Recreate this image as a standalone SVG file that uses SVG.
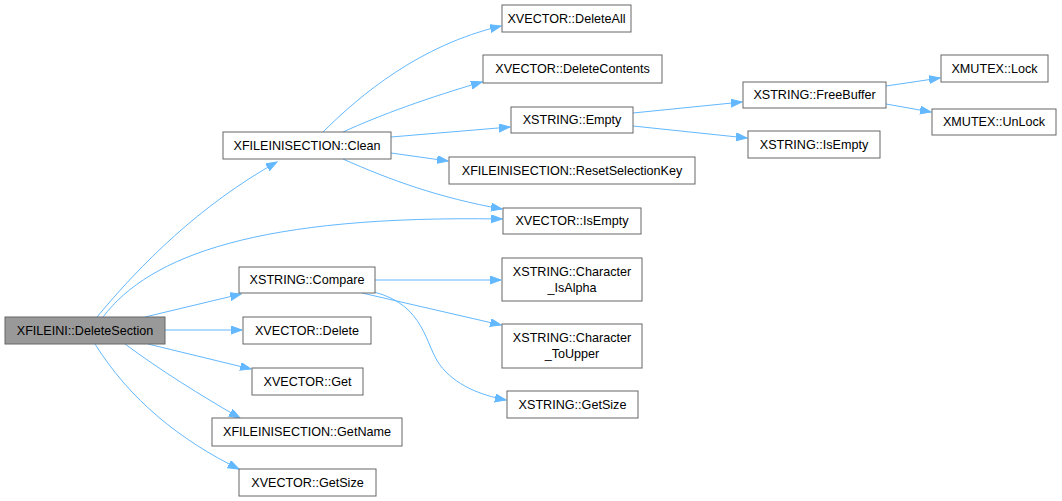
<svg xmlns="http://www.w3.org/2000/svg" width="1062" height="501" viewBox="0 0 1062 501">
<style>
.n rect{fill:#ffffff;stroke:#666666;stroke-width:1}
.n.root rect{fill:#999999}
.n text{font-family:"Liberation Sans",Arial,sans-serif;font-size:12.6px;fill:#000000;text-anchor:middle}
.e path{fill:none;stroke:#63b8ff;stroke-width:1;marker-end:url(#ah)}
</style>
<defs>
<marker id="ah" markerUnits="userSpaceOnUse" markerWidth="12" markerHeight="9" refX="11" refY="4" orient="auto">
<path d="M0,0 L11,4 L0,8 z" fill="#63b8ff" stroke="#63b8ff"/>
</marker>
</defs>
<rect width="1062" height="501" fill="#ffffff"/>
<g id="edges" class="e">
<path d="M97,317 C140,265 200,205 277,162"/>
<path d="M103,317 C150,255 260,215 502,219"/>
<path d="M145,317 L241,294"/>
<path d="M165,330 L242,330"/>
<path d="M148,344 L251,369"/>
<path d="M125,344 C160,370 200,395 240,418"/>
<path d="M95,344 C130,400 180,440 239,469"/>
<path d="M323,132 C360,95 420,45 501,26"/>
<path d="M343,132 C380,115 430,97 482,82"/>
<path d="M391,137 L510,127"/>
<path d="M391,153 L448,161"/>
<path d="M343,159 C390,180 440,198 502,209"/>
<path d="M633,113 L742,102"/>
<path d="M633,126 L747,138"/>
<path d="M886,86 L940,78"/>
<path d="M886,104 L931,112"/>
<path d="M375,280 L501,280"/>
<path d="M362,293 L501,325"/>
<path d="M374,292 C425,305 425,345 440,365 C455,385 480,395 506,400"/>
</g>
<g id="n_deletesection" class="n root"><rect x="5" y="317" width="160" height="27"/><text x="85" y="335">XFILEINI::DeleteSection</text></g>
<g id="n_clean" class="n"><rect x="223" y="132" width="168" height="27"/><text x="307" y="150">XFILEINISECTION::Clean</text></g>
<g id="n_deleteall" class="n"><rect x="502" y="5" width="129" height="27"/><text x="566.5" y="23">XVECTOR::DeleteAll</text></g>
<g id="n_deletecontents" class="n"><rect x="483" y="55" width="179" height="28"/><text x="572.5" y="73">XVECTOR::DeleteContents</text></g>
<g id="n_empty" class="n"><rect x="511" y="107" width="122" height="26"/><text x="572" y="124">XSTRING::Empty</text></g>
<g id="n_resetsel" class="n"><rect x="449" y="157" width="246" height="27"/><text x="572" y="175">XFILEINISECTION::ResetSelectionKey</text></g>
<g id="n_vec_isempty" class="n"><rect x="503" y="208" width="138" height="26"/><text x="572" y="225">XVECTOR::IsEmpty</text></g>
<g id="n_freebuffer" class="n"><rect x="743" y="82" width="143" height="26"/><text x="814.5" y="99">XSTRING::FreeBuffer</text></g>
<g id="n_str_isempty" class="n"><rect x="748" y="131" width="132" height="27"/><text x="814" y="149">XSTRING::IsEmpty</text></g>
<g id="n_lock" class="n"><rect x="941" y="55" width="107" height="27"/><text x="994.5" y="73">XMUTEX::Lock</text></g>
<g id="n_unlock" class="n"><rect x="932" y="109" width="124" height="26"/><text x="994" y="126">XMUTEX::UnLock</text></g>
<g id="n_compare" class="n"><rect x="239" y="267" width="136" height="26"/><text x="307" y="284">XSTRING::Compare</text></g>
<g id="n_isalpha" class="n"><rect x="502" y="258" width="140" height="43"/><text x="572" y="276">XSTRING::Character</text><text x="572" y="292">_IsAlpha</text></g>
<g id="n_toupper" class="n"><rect x="502" y="324" width="140" height="44"/><text x="572" y="342">XSTRING::Character</text><text x="572" y="358">_ToUpper</text></g>
<g id="n_str_getsize" class="n"><rect x="507" y="391" width="131" height="27"/><text x="572.5" y="409">XSTRING::GetSize</text></g>
<g id="n_delete" class="n"><rect x="243" y="317" width="128" height="27"/><text x="307" y="335">XVECTOR::Delete</text></g>
<g id="n_get" class="n"><rect x="252" y="368" width="111" height="27"/><text x="307.5" y="386">XVECTOR::Get</text></g>
<g id="n_getname" class="n"><rect x="212" y="418" width="190" height="28"/><text x="307" y="436">XFILEINISECTION::GetName</text></g>
<g id="n_vec_getsize" class="n"><rect x="239" y="469" width="137" height="27"/><text x="307.5" y="487">XVECTOR::GetSize</text></g>
</svg>
